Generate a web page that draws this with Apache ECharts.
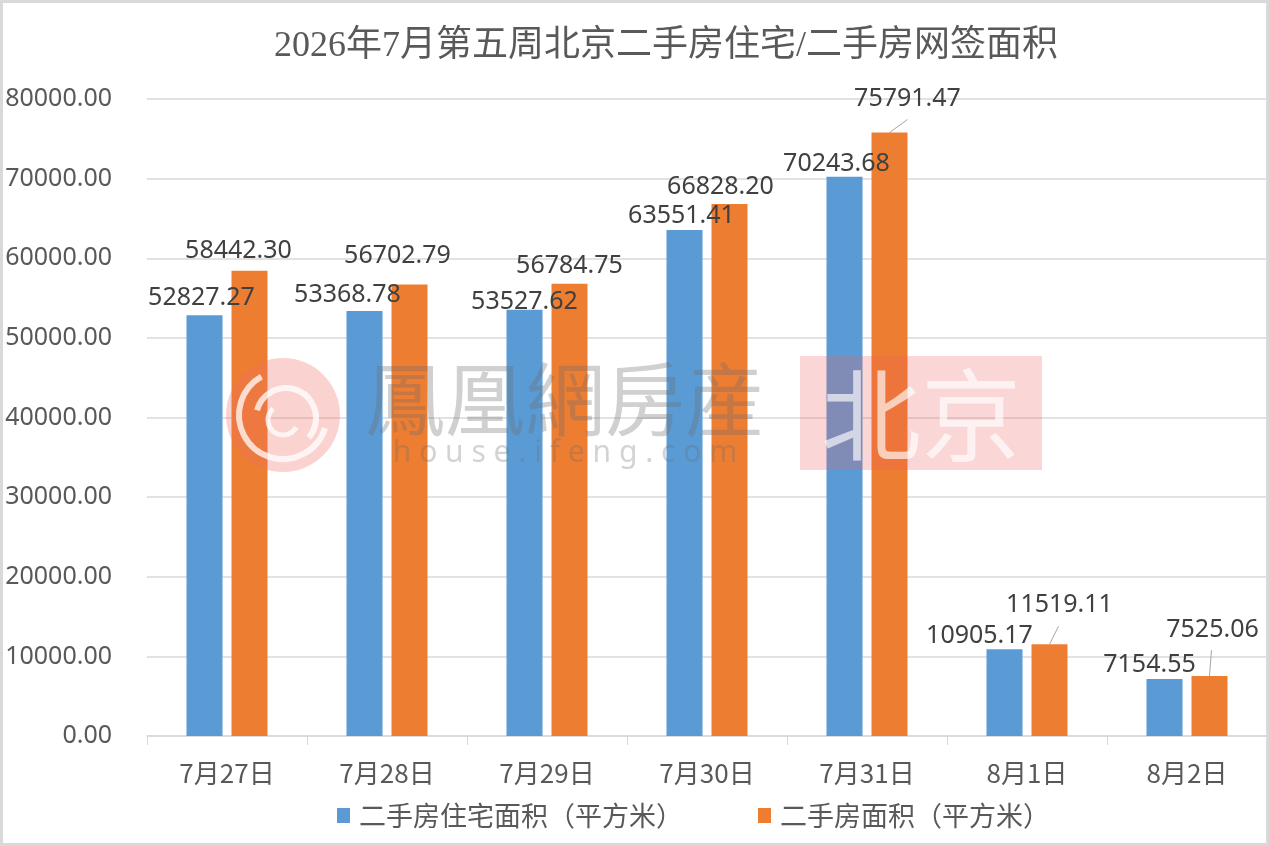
<!DOCTYPE html>
<html>
<head>
<meta charset="utf-8">
<script src="https://cdn.jsdelivr.net/npm/echarts@6/dist/echarts.min.js"></script>
<style>
html,body{margin:0;padding:0;background:#fff;}
#wrap{position:relative;width:1269px;height:846px;}
#chart{width:1269px;height:846px;}
#frame{position:absolute;left:0;top:0;width:1269px;height:846px;box-sizing:border-box;border:3px solid #d9d9d9;pointer-events:none;}
</style>
</head>
<body>
<div id="wrap"><div id="chart"></div><div id="frame"></div></div>
<script>
// ---- data ----
const titleText = '2026年7月第五周北京二手房住宅/二手房网签面积';
const categories = ['7月27日', '7月28日', '7月29日', '7月30日', '7月31日', '8月1日', '8月2日'];
const seriesNames = ['二手房住宅面积（平方米）', '二手房面积（平方米）'];
const residentialArea = [52827.27, 53368.78, 53527.62, 63551.41, 70243.68, 10905.17, 7154.55];
const totalArea = [58442.30, 56702.79, 56784.75, 66828.20, 75791.47, 11519.11, 7525.06];
const yTicks = { min: 0, max: 80000, interval: 10000 };

// ---- label nudges and leader-line ends (style, in px relative to bar) ----
const residentialNudge = [[-3,-5],[-17,-4],[0,5],[-3,-2],[-8,0],[-25,-1],[-15,-2]];
const totalNudge = [[-11,-7],[-12,-16],[0,-5],[-9,-5],[18,-21],[10,-27],[3,-34]];
const totalLeaderEnd = [null, null, null, null, [18,-13], [9,-18], [2,-26]];

const BAR_W = 36, BAR_GAP_PX = 9;
const chart = echarts.init(document.getElementById('chart'));
const numFont = 'Noto Sans';
const cjkFont = 'Noto Sans CJK SC';

const option = {
  animation: false,
  backgroundColor: '#ffffff',
  title: {
    text: titleText,
    left: 661,
    top: 24,
    textAlign: 'center',
    textStyle: { fontFamily: 'Liberation Serif, ' + cjkFont, fontSize: 36, fontWeight: 'normal', color: '#595959' }
  },
  legend: {
    left: 332,
    top: 797,
    itemWidth: 13,
    itemHeight: 15,
    itemGap: 75,
    icon: 'rect',
    textStyle: { fontFamily: cjkFont, fontSize: 27, color: '#595959', padding: [0, 0, 0, 4] },
    data: seriesNames
  },
  grid: { left: 147, right: 2, top: 99, bottom: 110, containLabel: false },
  xAxis: {
    type: 'category',
    data: categories,
    axisLine: { lineStyle: { color: '#d9d9d9', width: 1.5 } },
    axisTick: { show: true, length: 9, lineStyle: { color: '#d9d9d9' } },
    axisLabel: { fontFamily: cjkFont, fontSize: 26, color: '#595959', margin: 24 }
  },
  yAxis: {
    type: 'value',
    min: yTicks.min, max: yTicks.max, interval: yTicks.interval,
    axisLine: { show: false },
    axisTick: { show: false },
    splitLine: { lineStyle: { color: '#d9d9d9', width: 1.5 } },
    axisLabel: { fontFamily: numFont, fontSize: 25, color: '#595959', margin: 35, formatter: v => v.toFixed(2) }
  },
  series: [
    {
      name: seriesNames[0],
      type: 'bar',
      data: residentialArea,
      barWidth: BAR_W,
      barGap: (BAR_GAP_PX / BAR_W * 100) + '%',
      itemStyle: { color: '#5b9bd5' },
      label: { show: true, position: 'top', distance: 0, fontFamily: numFont, fontSize: 25, color: '#404040', formatter: p => p.value.toFixed(2) },
      labelLayout: p => ({ dx: residentialNudge[p.dataIndex][0], dy: residentialNudge[p.dataIndex][1] })
    },
    {
      name: seriesNames[1],
      type: 'bar',
      data: totalArea,
      barWidth: BAR_W,
      itemStyle: { color: '#ed7d31' },
      label: { show: true, position: 'top', distance: 0, fontFamily: numFont, fontSize: 25, color: '#404040', formatter: p => p.value.toFixed(2) },
      labelLayout: p => ({ dx: totalNudge[p.dataIndex][0], dy: totalNudge[p.dataIndex][1] })
    },
    {
      name: 'leader',
      type: 'custom',
      silent: true,
      z: 5,
      data: totalArea.map((v, i) => [i, v]),
      renderItem: (params, api) => {
        const i = params.dataIndex;
        const end = totalLeaderEnd[i];
        if (!end) return null;
        const pt = api.coord([api.value(0), api.value(1)]);
        const cx = pt[0] + (BAR_W + BAR_GAP_PX) / 2;
        return {
          type: 'line',
          shape: { x1: cx, y1: pt[1], x2: cx + end[0], y2: pt[1] + end[1] },
          style: { stroke: '#a6a6a6', lineWidth: 1 }
        };
      }
    }
  ],
  graphic: [
    // watermark logo
    { type: 'circle', z: 100, shape: { cx: 283, cy: 415, r: 57 }, style: { fill: 'rgba(240,110,100,0.30)' } },
    { type: 'arc', z: 101, shape: { cx: 283, cy: 415, r: 44, startAngle: 0.3, endAngle: 4.2 }, style: { stroke: 'rgba(255,255,255,0.75)', lineWidth: 6, fill: null } },
    { type: 'arc', z: 101, shape: { cx: 286, cy: 418, r: 30, startAngle: 3.4, endAngle: 7.0 }, style: { stroke: 'rgba(255,255,255,0.75)', lineWidth: 6, fill: null } },
    { type: 'arc', z: 101, shape: { cx: 283, cy: 420, r: 15, startAngle: 0.5, endAngle: 4.0 }, style: { stroke: 'rgba(255,255,255,0.75)', lineWidth: 5, fill: null } },
    { type: 'text', z: 100, x: 565, y: 399, style: { text: '鳳凰網房産', font: '80px "Noto Sans CJK TC"', fill: 'rgba(110,110,110,0.32)', align: 'center', verticalAlign: 'middle' } },
    { type: 'text', z: 100, x: 565, y: 453, style: { text: 'h o u s e . i f e n g . c o m', font: '30px "Noto Sans"', fill: 'rgba(110,110,110,0.30)', align: 'center', verticalAlign: 'middle' } },
    { type: 'rect', z: 100, shape: { x: 800, y: 356, width: 242, height: 114 }, style: { fill: 'rgba(240,90,90,0.25)' } },
    { type: 'text', z: 101, x: 921, y: 415, style: { text: '北京', font: '100px "Noto Sans CJK SC"', fill: 'rgba(255,255,255,0.65)', align: 'center', verticalAlign: 'middle' } }
  ]
};
chart.setOption(option);
</script>
</body>
</html>
